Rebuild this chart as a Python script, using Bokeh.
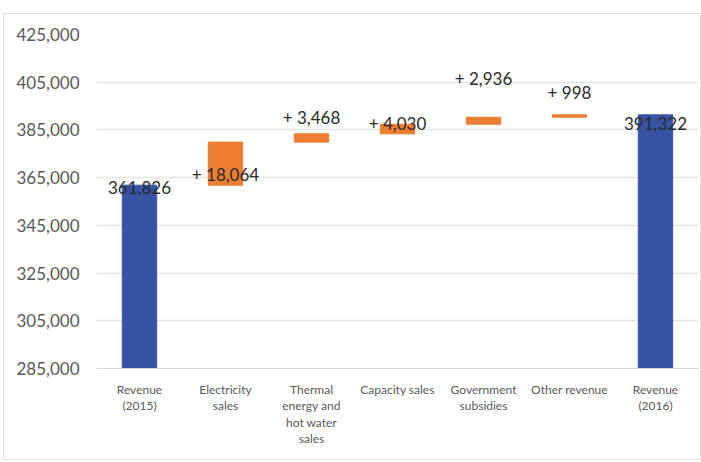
from bokeh.plotting import figure
from bokeh.models import ColumnDataSource, FixedTicker, NumeralTickFormatter, Range1d
from bokeh.core.properties import value
from bokeh.embed import file_html
from bokeh.resources import INLINE

# ---- data ----
categories = ["Revenue\n(2015)", "Electricity\nsales", "Thermal\nenergy and\nhot water\nsales",
              "Capacity sales", "Government\nsubsidies", "Other revenue", "Revenue\n(2016)"]
start_value = 361826
deltas = [18064, 3468, 4030, 2936, 998]
end_value = 391322
value_labels = ["361,826", "+ 18,064", "+ 3,468", "+ 4,030", "+ 2,936", "+ 998", "391,322"]
label_y = [360900, 366500, 390400, 387900, 406750, 400700, 387700]
yticks = [285000, 305000, 325000, 345000, 365000, 385000, 405000, 425000]

# ---- build waterfall geometry from the values ----
bottoms, tops, colors = [], [], []
BLUE = "#3953A4"
ORANGE = "#ED7D31"
bottoms.append(yticks[0]); tops.append(start_value); colors.append(BLUE)
running = start_value
for d in deltas:
    bottoms.append(running); tops.append(running + d); colors.append(ORANGE)
    running += d
bottoms.append(yticks[0]); tops.append(end_value); colors.append(BLUE)

bars = ColumnDataSource(dict(x=categories, bottom=bottoms, top=tops, color=colors))
labels = ColumnDataSource(dict(x=categories, y=label_y, text=value_labels))

FONT = "Lato"

p = figure(x_range=categories, y_range=Range1d(yticks[0], yticks[-1]),
           width=698, height=447, output_backend="svg", toolbar_location=None,
           min_border_left=92, min_border_right=4, min_border_top=20, min_border_bottom=93)
p.margin = (13, 0, 0, 3)
p.styles = {"border": "1px solid #e0e0e0"}

p.vbar(x="x", bottom="bottom", top="top", width=0.4, color="color", source=bars)
p.text(x="x", y="y", text="text", source=labels, text_align="center",
       text_baseline="middle", text_font=value(FONT), text_font_size="17px",
       text_color="#2b2b2b")

p.outline_line_color = None
p.background_fill_color = "white"
p.border_fill_color = "white"

p.yaxis.ticker = FixedTicker(ticks=yticks)
p.yaxis.formatter = NumeralTickFormatter(format="0,0")
p.yaxis.axis_line_color = None
p.yaxis.major_tick_line_color = None
p.yaxis.minor_tick_line_color = None
p.yaxis.major_label_text_font = FONT
p.yaxis.major_label_text_font_size = "17px"
p.yaxis.major_label_text_color = "#595959"
p.yaxis.major_label_standoff = 11

p.xaxis.axis_line_color = "#d9d9d9"
p.xaxis.major_tick_line_color = None
p.xaxis.minor_tick_line_color = None
p.xaxis.major_label_text_font = FONT
p.xaxis.major_label_text_font_size = "12px"
p.xaxis.major_label_text_color = "#595959"
p.xaxis.major_label_standoff = 7
p.xaxis.major_label_text_line_height = 1.1

p.xgrid.grid_line_color = None
p.ygrid.grid_line_color = "#e3e3e3"
p.ygrid.grid_line_width = 1.5

open("out.html", "w").write(file_html(p, INLINE))
